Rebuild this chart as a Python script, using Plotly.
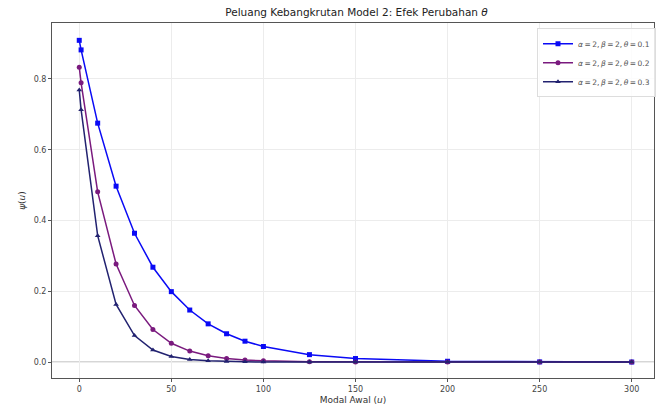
import plotly.graph_objects as go

u = [0, 1, 10, 20, 30, 40, 50, 60, 70, 80, 90, 100, 125, 150, 200, 250, 300]
psi_theta_01 = [0.909, 0.882, 0.675, 0.497, 0.364, 0.268, 0.199, 0.147, 0.108, 0.080,
                0.059, 0.044, 0.021, 0.010, 0.0023, 0.0005, 0.0001]
psi_theta_02 = [0.833, 0.789, 0.481, 0.277, 0.160, 0.092, 0.053, 0.031, 0.018, 0.010,
                0.006, 0.0034, 0.0009, 0.0002, 0.0, 0.0, 0.0]
psi_theta_03 = [0.769, 0.713, 0.357, 0.163, 0.075, 0.034, 0.016, 0.0073, 0.0034, 0.0016,
                0.0007, 0.0003, 0.0, 0.0, 0.0, 0.0, 0.0]

ts = "\u2009"
labels = [f"<i>α</i>{ts}={ts}2,{ts}<i>β</i>{ts}={ts}2,{ts}<i>θ</i>{ts}={ts}{v}"
          for v in ("0.1", "0.2", "0.3")]
colors = ["#0a0af5", "#7a1a7e", "#222270"]
symbols = ["square", "circle", "triangle-up"]
xticks = [0, 50, 100, 150, 200, 250, 300]
yticks = [0.0, 0.2, 0.4, 0.6, 0.8]

FONT = "DejaVu Sans"
W, H = 656, 413
L, R, T, B = 52, 0, 23, 35

fig = go.Figure()
for ys, lab, c, s in zip([psi_theta_01, psi_theta_02, psi_theta_03], labels, colors, symbols):
    fig.add_trace(go.Scatter(
        x=u, y=ys, mode="lines+markers", name=lab,
        line=dict(color=c, width=1.5),
        marker=dict(color=c, size=5, symbol=s),
    ))

fig.add_hline(y=0, line=dict(color="#999999", width=0.9), layer="below")

axis_common = dict(
    showgrid=True, gridcolor="#ececec", gridwidth=1,
    showline=True, linecolor="#555555", linewidth=1, mirror=True,
    ticks="outside", ticklen=3, tickcolor="#555555",
    tickfont=dict(family=FONT, size=8, color="#444444"),
    zeroline=False,
)

fig.update_layout(
    width=W, height=H,
    margin=dict(l=L, r=R, t=T, b=B),
    paper_bgcolor="white", plot_bgcolor="white",
    title=dict(text="Peluang Kebangkrutan Model 2: Efek Perubahan <i>θ</i>",
               x=356.5 / W, xanchor="center", y=1 - 12 / H, yanchor="middle",
               font=dict(family=FONT, size=10.5, color="#222222")),
    xaxis=dict(range=[-14.8, 312.1], tickvals=xticks,
               title=dict(text="Modal Awal (<i>u</i>)", standoff=4,
                          font=dict(family=FONT, size=9, color="#333333")),
               **axis_common),
    yaxis=dict(range=[-0.045, 0.958], tickvals=yticks, tickformat=".1f",
               title=dict(text="<i>ψ</i>(<i>u</i>)", standoff=6,
                          font=dict(family=FONT, size=9, color="#333333")),
               **axis_common),
    legend=dict(x=(539 - L) / (W - L - R), y=(378 - 28.3) / (H - T - B),
                xanchor="left", yanchor="top",
                bgcolor="rgba(255,255,255,0.85)", bordercolor="#dddddd", borderwidth=1,
                font=dict(family=FONT, size=7.5, color="#555555"),
                tracegroupgap=0, itemwidth=30),
    showlegend=True,
)

fig.write_html("out.html")
